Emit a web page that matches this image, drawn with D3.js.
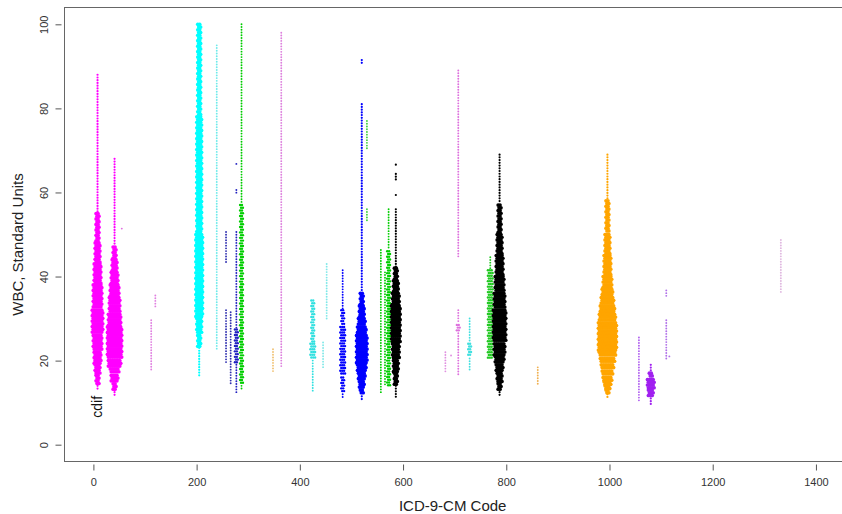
<!DOCTYPE html>
<html><head><meta charset="utf-8">
<script src="https://cdn.jsdelivr.net/npm/d3@7"></script>
<style>body{margin:0;background:#fff}svg{display:block;font-family:"Liberation Sans",Arial,sans-serif}</style>
</head><body><svg id="c" width="842" height="514"></svg>
<script>
// ICD-9-CM code of each group
const groupCodes = [8, 41, 55, 112, 120, 205, 239, 257, 266, 277, 287, 348, 364, 425, 445, 452, 483, 520, 530, 557, 565, 572, 586, 682, 693, 707, 729, 769, 787, 861, 996, 1057, 1080, 1110, 1116, 1332];
const groupColors = ["#ff00ff","#ff00ff","#e070e0","#e080e0","#e080e0","#00ffff","#70eaea","#3030b0","#3030b0","#2020c0","#00cd00","#f0c070","#dd80dd","#30e0e0","#80e8e8","#80e8e8","#0000ff","#0000ff","#40d040","#00cd00","#00cd00","#00cd00","#000000","#e090e0","#e090e0","#dd70dd","#40e0e0","#20c820","#000000","#f0b050","#ffa500","#b060f0","#a020f0","#b070e8","#b070e8","#e0b8e0"];
// WBC runs per group: [from, to, points side by side]
const groupRuns = [
  [[88,55,1],[55,48,2],[48,43,3],[43,38,4],[38,32,5],[32,26,6],[26,22,5],[22,19,4],[19,16.5,3],[16.5,14,2],[14,12.5,1]],
  [[68,47,1],[47,44,2],[44,41,3],[41,38,4],[38,35,5],[35,31,6],[31,28,7],[28,20,8],[20,18,7],[18,16.5,5],[16.5,14.5,4],[14.5,12.5,2],[12.5,11,1]],
  [[51.4,51.4,1]],
  [[29.6,17.2,1]],
  [[35.5,32.5,1]],
  [[100,78,2],[78,50,3],[50,30,4],[30,26,3],[26,23,2],[23,15.8,1]],
  [[95,22,1]],
  [[50.6,43,1],[32,19,1]],
  [[31.5,14,1]],
  [[66.8,66.3,1],[60.6,59.4,1],[50.6,27.4,1],[27.4,19,2],[19,12,1]],
  [[100,57,1],[57,14,2],[14,13,1]],
  [[22.7,16.7,1]],
  [[98,18,1]],
  [[34.3,24,2],[24,20,3],[20,12,1]],
  [[24.3,18,1]],
  [[43,29.6,1]],
  [[41.5,32,1],[32,28,2],[28,16,3],[16,12,2],[12,10.7,1]],
  [[91.5,90.2,1],[81,36,1],[36,33,2],[33,30,3],[30,28,4],[28,26,5],[26,19,6],[19,17,5],[17,15,4],[15,13,3],[13,11.5,2],[11.5,10,1]],
  [[77,70,1],[56,53,1]],
  [[46.3,12,1]],
  [[41,14,1]],
  [[56,46,1],[46,13.5,2]],
  [[66.6,66,1],[64.4,62.5,1],[59.4,59,1],[56,42,1],[42,39,2],[39,36,3],[36,33,4],[33,24,5],[24,20,4],[20,17,3],[17,14,2],[14,10.7,1]],
  [[22,17,1]],
  [[21.2,21.2,1]],
  [[89,44,1],[32,28.5,1],[28.5,26.5,2],[26.5,16,1]],
  [[30,24,1],[24,20.5,2],[20.5,17,1]],
  [[44.6,41.5,1],[41.5,20,3]],
  [[69,57,1],[57,50,2],[50,45,3],[45,40,4],[40,36,5],[36,32,6],[32,24,7],[24,21,6],[21,19,5],[19,17,4],[17,14.5,3],[14.5,12.5,2],[12.5,11,1]],
  [[18.4,14,1]],
  [[69,58,1],[58,50,2],[50,45,3],[45,40,4],[40,37,5],[37,35,6],[35,33,7],[33,31,8],[31,29,9],[29,22,10],[22,20.5,9],[20.5,19,8],[19,17.5,7],[17.5,16,6],[16,15,5],[15,14,4],[14,13,3],[13,12,2],[12,11,1]],
  [[25.5,10,1]],
  [[19,17,1],[17,15.5,2],[15.5,13,4],[13,11,3],[11,9,1]],
  [[36.7,35,1],[29.6,20,1]],
  [[21,21,1]],
  [[48.7,35.8,1]]
];
const xTicks = [0,200,400,600,800,1000,1200,1400];
const yTicks = [0,20,40,60,80,100];
const annotText = "cdif", annotCode = 8, annotWbc = 9;
const xTitle = "ICD-9-CM Code", yTitle = "WBC, Standard Units";

const svg = d3.select("#c");
const L = 64.5, T = 7.5, R = 850, B = 461.5;
const x = d3.scaleLinear().domain([-56, 1466]).range([L, R]);
const y = d3.scaleLinear().domain([-4, 104]).range([B, T]);
const rowStep = 0.65, dx = 1.9;

// points
const pts = [];
groupCodes.forEach((code, gi) => {
  const maxN = d3.max(groupRuns[gi], r => r[2]);
  groupRuns[gi].forEach(([from, to, n]) => {
    const cnt = Math.max(1, Math.round((from - to) / rowStep));
    for (let i = 0; i < cnt; i++) {
      const v = from - i * rowStep;
      const shift = n > 1 ? ((i % 2) ? dx / 4 : -dx / 4) : 0;
      for (let k = 0; k < n; k++) pts.push({code, v, off: (k - (n - 1) / 2) * dx + shift, n, maxN, color: groupColors[gi]});
    }
  });
});
svg.append("g").selectAll("circle").data(pts).join("circle")
  .attr("cx", d => x(d.code) + d.off).attr("cy", d => y(d.v))
  .attr("r", d => d.maxN >= 4 ? (d.n > 1 ? 1.85 : 1.1) : (d.n > 1 ? 1.2 : 0.95))
  .attr("fill", d => d.color);

// frame
svg.append("rect").attr("x", L).attr("y", T).attr("width", R - L).attr("height", B - T)
  .attr("fill", "none").attr("stroke", "#666").attr("stroke-width", 1);

// axes
const gx = svg.append("g").attr("transform", `translate(0,${B + 3})`)
  .call(d3.axisBottom(x).tickValues(xTicks).tickSize(6).tickPadding(8).tickFormat(d3.format("d")));
gx.select(".domain").remove();
gx.selectAll("line").attr("stroke", "#555");
gx.selectAll("text").attr("font-size", 11).attr("fill", "#333").attr("font-family", "Liberation Sans, Arial, sans-serif");

const gy = svg.append("g").attr("transform", `translate(${L - 3},0)`)
  .call(d3.axisLeft(y).tickValues(yTicks).tickSize(6).tickPadding(0).tickFormat(d3.format("d")));
gy.select(".domain").remove();
gy.selectAll("line").attr("stroke", "#555");
gy.selectAll("text").attr("font-size", 11).attr("fill", "#333").attr("font-family", "Liberation Sans, Arial, sans-serif")
  .attr("x", null).attr("dy", null).attr("text-anchor", "middle")
  .attr("transform", "translate(-17,0) rotate(-90)").attr("dy", "0.35em");

// titles
svg.append("text").attr("x", (x(0) + x(1400)) / 2 - 2).attr("y", 511).attr("text-anchor", "middle")
  .attr("font-size", 15).attr("fill", "#222").text(xTitle);
svg.append("text").attr("transform", `translate(23,${(T + B) / 2 + 10}) rotate(-90)`).attr("text-anchor", "middle")
  .attr("font-size", 15).attr("fill", "#222").text(yTitle);

// annotation
svg.append("text").attr("transform", `translate(${x(annotCode)},${y(annotWbc)}) rotate(-90)`)
  .attr("text-anchor", "middle").attr("dy", "0.35em").attr("font-size", 14).attr("fill", "#111").text(annotText);
</script></body></html>
